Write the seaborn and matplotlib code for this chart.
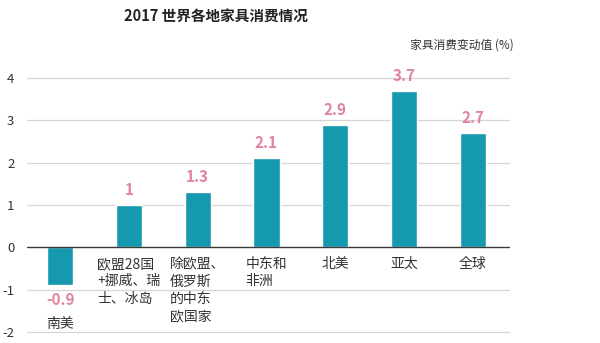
import matplotlib
matplotlib.use("Agg")
import matplotlib.pyplot as plt
import seaborn as sns
import pandas as pd

regions = ["南美", "欧盟28国\n+挪威、瑞\n士、冰岛", "除欧盟、\n俄罗斯\n的中东\n欧国家",
           "中东和\n非洲", "北美", "亚太", "全球"]
values = [-0.9, 1.0, 1.3, 2.1, 2.9, 3.7, 2.7]
value_labels = ["-0.9", "1", "1.3", "2.1", "2.9", "3.7", "2.7"]
yticks = [-2, -1, 0, 1, 2, 3, 4]

sns.set_style("white")
plt.rcParams["font.family"] = ["Noto Sans CJK SC", "DejaVu Sans"]

bar_color = "#1599AE"
label_color = "#E0849C"
text_color = "#333333"

df = pd.DataFrame({"region": regions, "value": values})

fig = plt.figure(figsize=(6.0, 3.43), dpi=100)
H = 343
ax = fig.add_axes([27 / 600, (H - 334.1) / H, (510 - 27) / 600, (334.1 - 75.9) / H])

sns.barplot(data=df, x="region", y="value", color=bar_color, saturation=1,
            width=0.38, ax=ax, zorder=3)

ax.set_xlim(-0.48, 6.54)
ax.set_ylim(-2.05, 4.05)
ax.set_yticks(yticks)
ax.set_yticklabels([str(t) for t in yticks], fontsize=9.5, color=text_color)
ax.tick_params(axis="y", length=0, pad=9)
ax.set_xticks([])
ax.set_xlabel("")
ax.set_ylabel("")
for s in ax.spines.values():
    s.set_visible(False)

for t in yticks:
    if t == 0:
        ax.axhline(0, color="#3a3a3a", lw=1.0, zorder=4)
    else:
        ax.axhline(t, color="#d6d6d6", lw=0.9, zorder=1)

for i, (v, lab, name) in enumerate(zip(values, value_labels, regions)):
    if v >= 0:
        ax.annotate(lab, (i, v), xytext=(0, 5), textcoords="offset points",
                    ha="center", va="bottom", fontsize=11, fontweight="bold",
                    color=label_color)
        ax.annotate(name, (i, 0), xytext=(0, -7), textcoords="offset points",
                    ha="center", va="top", multialignment="left", fontsize=10,
                    color=text_color, linespacing=1.3)
    else:
        ax.annotate(lab, (i, v), xytext=(0, -5), textcoords="offset points",
                    ha="center", va="top", fontsize=11, fontweight="bold",
                    color=label_color)
        ax.annotate(name, (i, v), xytext=(0, -23), textcoords="offset points",
                    ha="center", va="top", fontsize=10, color=text_color)

fig.text(216 / 600, 1 - 17 / H, "2017 世界各地家具消费情况", ha="center", va="center",
         fontsize=10.5, fontweight="bold", color="#222222")
fig.text(514 / 600, 1 - 45 / H, "家具消费变动值 (%)", ha="right", va="center",
         fontsize=8.5, color=text_color)

fig.savefig("out.png", dpi=100, facecolor="white")
